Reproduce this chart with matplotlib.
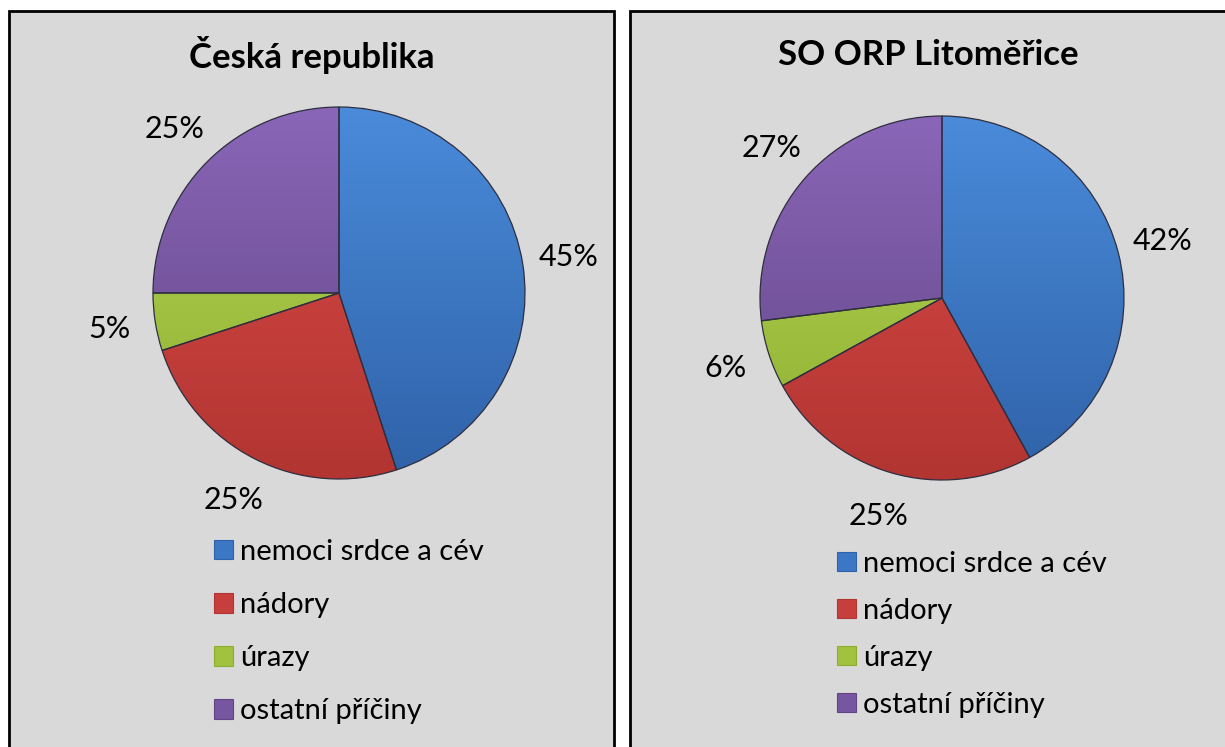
import matplotlib
matplotlib.use("Agg")
import matplotlib.pyplot as plt
import numpy as np
from matplotlib.patches import Rectangle
from matplotlib.colors import LinearSegmentedColormap

plt.rcParams['font.family'] = ['Lato', 'DejaVu Sans']

categories = ["nemoci srdce a cév", "nádory", "úrazy", "ostatní příčiny"]
titles = ["Česká republika", "SO ORP Litoměřice"]
values_cr = [45, 25, 5, 25]
values_orp = [42, 25, 6, 27]

light = ["#4A8BDA", "#DA4B47", "#B5D656", "#8A66B8"]
dark = ["#2F62A8", "#B23532", "#8DAE2E", "#614584"]
mid = ["#3C77C6", "#C63F3C", "#A0C23F", "#7656A0"]

W, H = 1225, 747
fig = plt.figure(figsize=(W / 100, H / 100), dpi=100)
fig.patch.set_facecolor("white")

# panel frames
for (x0, x1) in [(9, 614), (630, 1240)]:
    fig.patches.append(Rectangle((x0 / W, -0.05), (x1 - x0) / W, (H - 11) / H + 0.05,
                                 transform=fig.transFigure, facecolor="#D9D9D9",
                                 edgecolor="black", linewidth=2, zorder=0))

panels = [
    dict(values=values_cr, title=titles[0], cx=339, cy=293, r=186, tx=312,
         leg=(214, 539), ls=0.93),
    dict(values=values_orp, title=titles[1], cx=942, cy=298, r=182, tx=928,
         leg=(837, 551), ls=0.72),
]

for p in panels:
    cx, cy, r = p["cx"], p["cy"], p["r"]
    ax = fig.add_axes([(cx - r) / W, (H - cy - r) / H, 2 * r / W, 2 * r / H])
    ax.set_zorder(3)
    ax.patch.set_visible(False)
    ax.set_xlim(-1, 1)
    ax.set_ylim(-1, 1)
    ax.set_aspect("equal")
    ax.axis("off")
    wedges, texts, autotexts = ax.pie(
        p["values"], colors=mid, startangle=90, counterclock=False, radius=1,
        autopct=lambda v: f"{v:.0f}%", pctdistance=1.25,
        wedgeprops=dict(edgecolor="#2E2E40", linewidth=0.9),
        textprops=dict(fontsize=22, color="black"))
    for t in autotexts:
        t.set_clip_on(False)
    grad = np.linspace(0, 1, 256).reshape(-1, 1)
    for w, lc, dc in zip(wedges, light, dark):
        cmap = LinearSegmentedColormap.from_list("g", [lc, dc])
        im = ax.imshow(grad, cmap=cmap, extent=(-1, 1, -1, 1), origin="upper",
                       aspect="auto", zorder=w.get_zorder() + 0.1)
        im.set_clip_path(w)
        w.set_zorder(w.get_zorder() + 0.2)
        w.set_facecolor("none")
    ax.set_xlim(-1, 1)
    ax.set_ylim(-1, 1)

    fig.text(p["tx"] / W, 1 - 55 / H, p["title"], ha="center", va="center",
             fontsize=25, fontweight="bold")

    handles = [Rectangle((0, 0), 1, 1, facecolor=c, edgecolor=d, linewidth=0.8)
               for c, d in zip(mid, dark)]
    fig.legend(handles, categories, loc="upper left",
               bbox_to_anchor=(p["leg"][0] / W, 1 - p["leg"][1] / H),
               frameon=False, fontsize=21, handlelength=0.65, handleheight=0.65,
               handletextpad=0.25, labelspacing=p["ls"], borderaxespad=0, borderpad=0)

fig.savefig("out.png", dpi=100, facecolor=fig.get_facecolor())
